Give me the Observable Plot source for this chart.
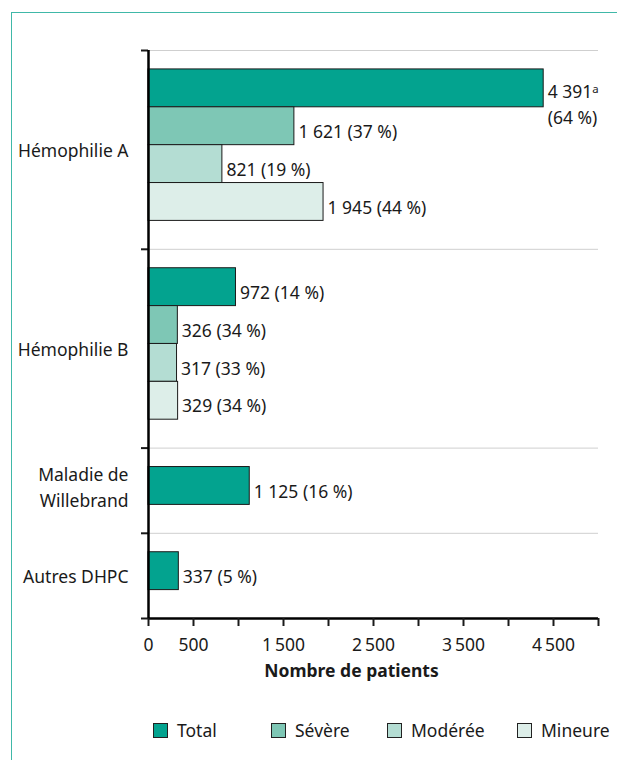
<!DOCTYPE html>
<html>
<head>
<meta charset="utf-8">
<script src="https://cdn.jsdelivr.net/npm/d3@7"></script>
<script src="https://cdn.jsdelivr.net/npm/@observablehq/plot@0.6"></script>
<style>
  html, body { margin: 0; padding: 0; background: #fff; }
  body { width: 617px; height: 760px; position: relative; overflow: hidden; font-family: "Noto Sans", sans-serif; color: #1a1a1a; }
  #frame { position: absolute; left: 11px; top: 12px; right: -10px; bottom: -10px; border-left: 1.5px solid #40B8A8; border-top: 1.5px solid #40B8A8; }
  #chart { position: absolute; left: 0; top: 0; }
  #legend { position: absolute; top: 722px; left: 0; width: 617px; height: 16px; font-size: 17.5px; }
  .item { position: absolute; top: 0; display: flex; align-items: center; height: 16px; }
  .sw { width: 13px; height: 13px; border: 1px solid #222; margin-right: 9px; box-sizing: content-box; }
</style>
</head>
<body>
<div id="frame"></div>
<div id="chart"></div>
<div id="legend"></div>
<script>
// ---- Data ----
const groups = ["Hémophilie A", "Hémophilie B", "Maladie de\nWillebrand", "Autres DHPC"];
const series = ["Total", "Sévère", "Modérée", "Mineure"];
const totalValues = [4391, 972, 1125, 337];
const totalPercents = [64, 14, 16, 5];
const severityA = [1621, 821, 1945];
const severityAPercents = [37, 19, 44];
const severityB = [326, 317, 329];
const severityBPercents = [34, 33, 34];
const tickValues = [0, 500, 1000, 1500, 2000, 2500, 3000, 3500, 4000, 4500, 5000];
const tickLabelled = [0, 500, 1500, 2500, 3500, 4500];
const colors = ["#03A38F", "#7EC7B5", "#B4DDD3", "#DDEEE9"];
const footnoteGroup = "Hémophilie A";

// ---- Build rows ----
const fmt = v => d3.format(",")(v).replace(/,/g, " ");
const subs = {"Hémophilie A": [severityA, severityAPercents], "Hémophilie B": [severityB, severityBPercents]};
const rows = [];
const boundaries = [0];
const centers = [];
let u = 0;
const TOP = 0.5, BOT = 0.75;
groups.forEach((g, gi) => {
  u += TOP;
  const start = u;
  const list = [{series: "Total", value: totalValues[gi], pct: totalPercents[gi]}];
  if (subs[g]) subs[g][0].forEach((v, i) => list.push({series: series[i + 1], value: v, pct: subs[g][1][i]}));
  list.forEach(r => {
    const label = (g === footnoteGroup && r.series === "Total")
      ? `${fmt(r.value)}ᵃ\n(${r.pct} %)`
      : `${fmt(r.value)} (${r.pct} %)`;
    rows.push({group: g, ...r, y1: u, y2: u + 1, label});
    u += 1;
  });
  centers.push({group: g, y: (start + u) / 2});
  u += BOT;
  boundaries.push(u);
});
const total = u;

const single = rows.filter(r => !r.label.includes("\n"));
const multi = rows.filter(r => r.label.includes("\n"));
const centersSingle = centers.filter(c => !c.group.includes("\n"));
const centersMulti = centers.filter(c => c.group.includes("\n"));

const plot = Plot.plot({
  width: 617,
  height: 700,
  marginTop: 50,
  marginBottom: 82,
  marginLeft: 148,
  marginRight: 19,
  style: {fontFamily: "Noto Sans, sans-serif", fontSize: "17.5px", color: "#1a1a1a", background: "transparent"},
  x: {domain: [0, 5000], axis: null},
  y: {type: "linear", domain: [0, total], range: [50, 618], axis: null},
  color: {domain: series, range: colors},
  marks: [
    Plot.ruleY(boundaries.slice(0, -1), {x1: 0, x2: 5000, stroke: "#cfcfcf", strokeWidth: 1}),
    Plot.rectX(rows, {x1: 0, x2: "value", y1: "y1", y2: "y2", fill: "series", stroke: "#1a1a1a", strokeWidth: 1}),
    Plot.text(single, {x: "value", y: d => (d.y1 + d.y2) / 2, text: "label", textAnchor: "start", dx: 4, dy: 6, fill: "#1a1a1a"}),
    Plot.text(multi, {x: "value", y: d => (d.y1 + d.y2) / 2, text: "label", textAnchor: "start", lineAnchor: "top", lineHeight: 1.45, dx: 4, dy: -8, fill: "#1a1a1a"}),
    Plot.text(centersSingle, {x: 0, y: "y", text: "group", textAnchor: "end", dx: -20, dy: 6, fill: "#1a1a1a"}),
    Plot.text(centersMulti, {x: 0, y: "y", text: "group", textAnchor: "end", lineHeight: 1.45, dx: -20, dy: 0, fill: "#1a1a1a"}),
    Plot.axisY({ticks: boundaries, tickSize: 7, strokeWidth: 2, tickFormat: () => "", label: null}),
    Plot.ruleX([0], {y1: 0, y2: total, stroke: "#000", strokeWidth: 2.5}),
    Plot.ruleY([total], {x1: 0, x2: 5000, stroke: "#000", strokeWidth: 2.5}),
    Plot.axisX({ticks: tickValues, tickSize: 8, tickPadding: 12, strokeWidth: 2, label: null,
      tickFormat: d => tickLabelled.includes(d) ? d3.format(",")(d).replace(/,/g, "\u2009") : ""}),
    Plot.text(["Nombre de patients"], {frameAnchor: "bottom", dx: -22, dy: 58, fontWeight: "bold", fill: "#1a1a1a"})
  ]
});
document.getElementById("chart").appendChild(plot);

// ---- Legend ----
const legendLeft = [153, 271, 387, 517];
const legend = document.getElementById("legend");
series.forEach((s, i) => {
  const it = document.createElement("div");
  it.className = "item";
  it.style.left = legendLeft[i] + "px";
  const sw = document.createElement("div");
  sw.className = "sw";
  sw.style.background = colors[i];
  const t = document.createElement("span");
  t.textContent = s;
  it.appendChild(sw);
  it.appendChild(t);
  legend.appendChild(it);
});
</script>
</body>
</html>
